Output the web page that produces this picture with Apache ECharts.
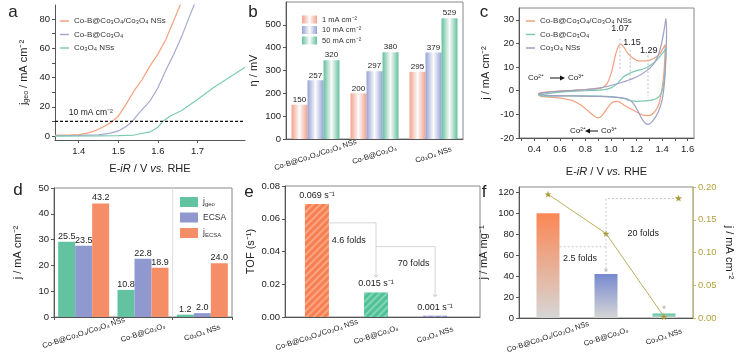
<!DOCTYPE html>
<html><head><meta charset="utf-8">
<script src="https://cdn.jsdelivr.net/npm/echarts@6/dist/echarts.min.js"></script>
<style>html,body{margin:0;padding:0;background:#fff}#c{width:746px;height:359px}</style>
</head><body><div id="c"></div>
<script>
// ---------------- DATA ----------------
const cats = ['Co-B@Co₃O₄/Co₃O₄ NSs', 'Co-B@Co₃O₄', 'Co₃O₄ NSs'];

// (a) LSV curves [E (V), j (mA cm-2)]
const lsvCoBCo3O4Co3O4 = [[1.34,0.6],[1.38,0.8],[1.40,1.0],[1.42,1.8],[1.44,3.5],[1.46,6],[1.48,9],[1.50,13.5],[1.52,22],[1.54,31],[1.56,38.5],[1.58,48],[1.60,56],[1.62,66],[1.64,79],[1.66,92]];
const lsvCoBCo3O4 = [[1.34,0.3],[1.40,0.4],[1.45,0.8],[1.48,2],[1.50,3.5],[1.52,6.5],[1.535,10],[1.55,15],[1.58,24],[1.60,33],[1.62,45],[1.64,56],[1.66,68],[1.68,82],[1.695,92]];
const lsvCo3O4 = [[1.34,0],[1.45,0.1],[1.50,0.3],[1.54,0.7],[1.58,2.8],[1.60,6],[1.612,10],[1.63,13.5],[1.66,17.5],[1.70,25],[1.74,33],[1.78,40],[1.82,47]];
const refCurrent = 10;
const aXTicks = [1.4, 1.5, 1.6, 1.7];
const aYTicks = [0, 20, 40, 60, 80];

// (b) overpotentials (mV)
const bLegend = ['1 mA cm⁻²', '10 mA cm⁻²', '50 mA cm⁻²'];
const eta1 = [150, 200, 295];
const eta10 = [257, 297, 379];
const eta50 = [345, 380, 529];
const eta1Labels = ['150', '200', '295'];
const eta10Labels = ['257', '297', '379'];
const eta50Labels = ['320', '380', '529'];
const bYTicks = [0, 100, 200, 300, 400, 500];

// (c) CV loops [E (V), j (mA cm-2)]
const cvCoBCo3O4Co3O4 = [[0.43,-1.5],[0.45,-0.9],[0.5,-0.5],[0.6,-0.1],[0.7,0.2],[0.8,0.5],[0.9,0.9],[0.94,1.5],[0.97,3],[1.0,7],[1.02,11.5],[1.04,16],[1.06,19],[1.08,19.6],[1.10,18.5],[1.13,16],[1.17,13.8],[1.22,12.6],[1.28,12.6],[1.33,13.5],[1.38,15.5],[1.41,18],[1.425,19.5],[1.42,12],[1.41,5],[1.39,-2],[1.37,-6.5],[1.34,-9],[1.30,-10.5],[1.25,-10.3],[1.20,-9],[1.15,-7.5],[1.10,-6],[1.05,-4.5],[1.01,-5],[0.97,-7.5],[0.93,-10.5],[0.90,-11.5],[0.87,-10.8],[0.82,-8.5],[0.77,-6.3],[0.70,-4.2],[0.62,-3.2],[0.52,-2.7],[0.45,-2.4],[0.43,-1.5]];
const cvCoBCo3O4 = [[0.43,-1.8],[0.5,-1.2],[0.6,-0.6],[0.8,0.0],[0.95,0.5],[1.0,1.2],[1.05,3],[1.10,6],[1.15,7.5],[1.20,8.5],[1.25,9.2],[1.30,10.5],[1.35,12.5],[1.39,15],[1.42,17],[1.43,18],[1.425,10],[1.41,2],[1.39,-1.5],[1.36,-3.2],[1.32,-4],[1.27,-4.3],[1.20,-4.5],[1.15,-4.2],[1.10,-3.3],[1.0,-2.5],[0.8,-2.2],[0.6,-2.2],[0.48,-2.3],[0.43,-1.8]];
const cvCo3O4 = [[0.43,-1.2],[0.5,-0.7],[0.6,-0.3],[0.7,0.1],[0.8,0.5],[0.9,1.1],[1.0,2.2],[1.1,3.8],[1.2,5.8],[1.28,8.5],[1.33,11],[1.37,15],[1.40,21],[1.42,27],[1.43,30.5],[1.435,24],[1.43,14],[1.42,4],[1.40,-4],[1.37,-9],[1.33,-12.5],[1.29,-14.2],[1.25,-12.5],[1.21,-8.5],[1.17,-5],[1.13,-3.5],[1.05,-2.8],[0.9,-2.4],[0.7,-2.2],[0.5,-2.0],[0.43,-1.2]];
const cvPeaks = [1.07, 1.15, 1.29];
const cvPeakTop = [22, 17.4, 15];
const cvPeakBottom = [8.75, 3.5, -2.4];
const cXLabels = [0.4, 0.6, 0.8, 1.0, 1.2, 1.4, 1.6];
const cXTicks = [0.3,0.4,0.5,0.6,0.7,0.8,0.9,1.0,1.1,1.2,1.3,1.4,1.5,1.6];
const cYTicks = [-20, -10, 0, 10, 20, 30];

// (d) current densities
const dLegend = ['jgeo', 'ECSA', 'jECSA'];
const jgeo = [29.2, 10.5, 0.9];
const ecsa = [27.6, 22.6, 1.5];
const jecsa = [44.0, 19.1, 20.8];
const jgeoLabels = ['25.5', '10.8', '1.2'];
const ecsaLabels = ['23.5', '22.8', '2.0'];
const jecsaLabels = ['43.2', '18.9', '24.0'];

// (e) TOF
const tof = [0.069, 0.015, 0.0008];
const tofLabels = ['0.069 s⁻¹', '0.015 s⁻¹', '0.001 s⁻¹'];
const eYTicks = [0, 0.02, 0.04, 0.06, 0.08];

// (f) mass activity & specific activity
const massAct = [100, 42, 4.3];
const massErrTop = [null, 46, 10.5];
const specAct = [0.189, 0.129, 0.002];
const fYTicks = [0, 20, 40, 60, 80, 100, 120];
const fY2Ticks = [0, 0.05, 0.10, 0.15, 0.20];

// ---------------- STYLE ----------------
const FONT = '"Liberation Sans", Arial, sans-serif';
const AX = '#555';
const TXT = '#222';
const nameRich = {
  n: {fontSize: 11, fontFamily: FONT, color: TXT, lineHeight: 13},
  i: {fontSize: 11, fontFamily: FONT, color: TXT, fontStyle: 'italic', lineHeight: 13},
  s: {fontSize: 7, fontFamily: FONT, color: TXT, verticalAlign: 'bottom', lineHeight: 7},
  p: {fontSize: 7, fontFamily: FONT, color: TXT, verticalAlign: 'top', lineHeight: 7}
};
function axisBase(extra) {
  return Object.assign({
    axisLine: {show: true, onZero: false, lineStyle: {color: AX, width: 1}},
    axisTick: {show: true, length: 3, inside: false, lineStyle: {color: AX}},
    axisLabel: {color: TXT, fontSize: 9.5, fontFamily: FONT, margin: 4},
    splitLine: {show: false},
    nameLocation: 'middle',
    nameTextStyle: {rich: nameRich, fontFamily: FONT, fontSize: 11, color: TXT}
  }, extra);
}
function catLabel(extra) {
  return Object.assign({color: TXT, fontSize: 7.5, fontFamily: FONT, rotate: 18, align: 'center', verticalAlign: 'middle', margin: 16}, extra);
}
function cyl(c) {
  return new echarts.graphic.LinearGradient(0, 0, 1, 0, [
    {offset: 0, color: c}, {offset: 0.5, color: '#fbfbfb'}, {offset: 1, color: c}]);
}
function vgrad(c) {
  return new echarts.graphic.LinearGradient(0, 0, 0, 1, [
    {offset: 0, color: c}, {offset: 1, color: '#d6d6d6'}]);
}
const frame = {show: true, borderColor: '#888', borderWidth: 1, backgroundColor: 'transparent'};
const starPath = 'path://M50,0 L61,35 L98,35 L68,57 L79,91 L50,70 L21,91 L32,57 L2,35 L39,35 Z';

const chart = echarts.init(document.getElementById('c'), null, {renderer: 'canvas'});

const option = {
  animation: false,
  backgroundColor: '#fff',
  textStyle: {fontFamily: FONT},
  grid: [
    {left: 55, top: 5, width: 190, height: 135},
    Object.assign({left: 286, top: 2, width: 177, height: 137}, frame),
    Object.assign({left: 519, top: 8, width: 175, height: 130}, frame),
    Object.assign({left: 54, top: 188, width: 178, height: 129}, frame),
    Object.assign({left: 285, top: 186, width: 195, height: 131}, frame),
    Object.assign({left: 519, top: 187, width: 174, height: 131}, frame)
  ],
  legend: [
    {data: ['Co-B@Co₃O₄/Co₃O₄ NSs', 'Co-B@Co₃O₄', 'Co₃O₄ NSs'], left: 55, top: 11, orient: 'vertical', icon: 'rect',
     itemWidth: 9, itemHeight: 1.5, itemGap: 3.5, selectedMode: false,
     textStyle: {fontSize: 8, fontFamily: FONT, color: '#333', lineHeight: 10}},
    {data: bLegend, left: 297, top: 10, orient: 'vertical', icon: 'rect', itemWidth: 15, itemHeight: 8, itemGap: 1.5,
     selectedMode: false, textStyle: {fontSize: 7.5, fontFamily: FONT, color: '#333', lineHeight: 9}},
    {data: ['Co-B@Co₃O₄/Co₃O₄ NSs ', 'Co-B@Co₃O₄ ', 'Co₃O₄ NSs '], left: 521, top: 11, orient: 'vertical', icon: 'rect',
     itemWidth: 9, itemHeight: 1.5, itemGap: 3.5, selectedMode: false,
     textStyle: {fontSize: 8, fontFamily: FONT, color: '#333', lineHeight: 10}},
    {data: dLegend, left: 175, top: 192, orient: 'vertical', icon: 'rect', itemWidth: 18, itemHeight: 10, itemGap: 5.5,
     selectedMode: false,
     formatter: n => n === 'jgeo' ? '{n|j}{s|geo}' : (n === 'jECSA' ? '{n|j}{s|ECSA}' : '{n|ECSA}'),
     textStyle: {fontSize: 8.5, fontFamily: FONT, color: '#333', rich: {
       n: {fontSize: 8.5, fontFamily: FONT, color: '#333', lineHeight: 10},
       s: {fontSize: 6, fontFamily: FONT, color: '#333', verticalAlign: 'bottom', lineHeight: 6}}}}
  ],
  xAxis: [
    axisBase({gridIndex: 0, type: 'value', min: 1.34, max: 1.82,
      axisLabel: {color: TXT, fontSize: 9.5, fontFamily: FONT, margin: 6, customValues: aXTicks},
      axisTick: {show: true, length: 3, lineStyle: {color: AX}, customValues: aXTicks},
      name: '{n|E-}{i|iR}{n| / V }{i|vs.}{n| RHE}', nameGap: 22}),
    axisBase({gridIndex: 1, type: 'category', data: cats, axisLabel: catLabel({}),
      axisTick: {show: false}}),
    axisBase({gridIndex: 2, type: 'value', min: 0.28, max: 1.65,
      axisLabel: {color: TXT, fontSize: 9.5, fontFamily: FONT, margin: 6, customValues: cXLabels, formatter: v => v.toFixed(1)},
      axisTick: {show: true, length: 3, lineStyle: {color: AX}, customValues: cXTicks},
      name: '{n|E-}{i|iR}{n| / V }{i|vs.}{n| RHE}', nameGap: 27}),
    axisBase({gridIndex: 3, type: 'category', data: cats, axisLabel: catLabel({}),
      axisTick: {show: true, length: 3, lineStyle: {color: AX}}}),
    axisBase({gridIndex: 4, type: 'value', min: -0.54, max: 2.76,
      axisLabel: catLabel({customValues: [0, 1, 2], formatter: v => cats[Math.round(v)], margin: 18}),
      axisTick: {show: false}}),
    axisBase({gridIndex: 5, type: 'value', min: -0.5, max: 2.5,
      axisLabel: catLabel({customValues: [0, 1, 2], formatter: v => cats[Math.round(v)], margin: 19}),
      axisTick: {show: false}})
  ],
  yAxis: [
    axisBase({gridIndex: 0, type: 'value', min: -2.7, max: 89.6,
      axisLabel: {color: TXT, fontSize: 9.5, fontFamily: FONT, margin: 5, customValues: aYTicks},
      axisTick: {show: true, length: 3, lineStyle: {color: AX}, customValues: [0,10,20,30,40,50,60,70,80]},
      name: '{n|j}{s|geo}{n| / mA cm⁻²}', nameGap: 25}),
    axisBase({gridIndex: 1, type: 'value', min: 0, max: 600,
      axisLabel: {color: TXT, fontSize: 9.5, fontFamily: FONT, margin: 5, customValues: bYTicks},
      axisTick: {show: true, length: 3, lineStyle: {color: AX}, customValues: bYTicks},
      name: '{n|η / mV}', nameGap: 26}),
    axisBase({gridIndex: 2, type: 'value', min: -20, max: 35,
      axisLabel: {color: TXT, fontSize: 9.5, fontFamily: FONT, margin: 5, customValues: cYTicks},
      axisTick: {show: true, length: 3, lineStyle: {color: AX}, customValues: cYTicks},
      name: '{n|j / mA cm⁻²}', nameGap: 27}),
    axisBase({gridIndex: 3, type: 'value', min: 0, max: 50, interval: 10,
      axisLabel: {color: TXT, fontSize: 9.5, fontFamily: FONT, margin: 5},
      name: '{n|j / mA cm⁻²}', nameGap: 30}),
    axisBase({gridIndex: 4, type: 'value', min: 0, max: 0.08,
      axisLabel: {color: TXT, fontSize: 9.5, fontFamily: FONT, margin: 5, customValues: eYTicks, formatter: v => v.toFixed(2)},
      axisTick: {show: true, length: 3, lineStyle: {color: AX}, customValues: eYTicks},
      name: '{n|TOF (s⁻¹)}', nameGap: 28}),
    axisBase({gridIndex: 5, type: 'value', min: 0, max: 125,
      axisLabel: {color: TXT, fontSize: 9.5, fontFamily: FONT, margin: 5, customValues: fYTicks},
      axisTick: {show: true, length: 3, lineStyle: {color: AX}, customValues: fYTicks},
      name: '{n|j / mA mg⁻¹}', nameGap: 29}),
    axisBase({gridIndex: 5, type: 'value', position: 'right', min: 0, max: 0.2,
      axisLine: {show: true, onZero: false, lineStyle: {color: '#c9b96a'}},
      axisLabel: {color: '#b3a23e', fontSize: 9.5, fontFamily: FONT, margin: 5, customValues: fY2Ticks, formatter: v => v.toFixed(2)},
      axisTick: {show: true, length: 3, lineStyle: {color: '#c9b96a'}, customValues: fY2Ticks},
      name: '{n|j / mA cm⁻²}', nameGap: 30, nameRotate: -90})
  ],
  series: [
    // (a)
    {type: 'line', name: 'Co-B@Co₃O₄/Co₃O₄ NSs', xAxisIndex: 0, yAxisIndex: 0, data: lsvCoBCo3O4Co3O4, showSymbol: false, color: '#f4a27e', lineStyle: {width: 1.2}},
    {type: 'line', name: 'Co-B@Co₃O₄', xAxisIndex: 0, yAxisIndex: 0, data: lsvCoBCo3O4, showSymbol: false, color: '#a5a9d0', lineStyle: {width: 1.2}},
    {type: 'line', name: 'Co₃O₄ NSs', xAxisIndex: 0, yAxisIndex: 0, data: lsvCo3O4, showSymbol: false, color: '#7fcbb2', lineStyle: {width: 1.2}},
    {type: 'line', name: 'ref', xAxisIndex: 0, yAxisIndex: 0, data: [[1.34, refCurrent], [1.82, refCurrent]], showSymbol: false, color: '#111', lineStyle: {width: 1.1, type: [3, 2]}},
    // (b)
    {type: 'bar', name: bLegend[0], xAxisIndex: 1, yAxisIndex: 1, data: eta1, barWidth: 16, barGap: '0%', itemStyle: {color: cyl('#f3a28d')},
      label: {show: true, position: 'top', distance: 1, formatter: p => eta1Labels[p.dataIndex], fontSize: 8, color: TXT, backgroundColor: '#fff', padding: [0, 1]}},
    {type: 'bar', name: bLegend[1], xAxisIndex: 1, yAxisIndex: 1, data: eta10, barWidth: 16, barGap: '0%', itemStyle: {color: cyl('#97a3d6')},
      label: {show: true, position: 'top', distance: 1, formatter: p => eta10Labels[p.dataIndex], fontSize: 8, color: TXT, backgroundColor: '#fff', padding: [0, 1]}},
    {type: 'bar', name: bLegend[2], xAxisIndex: 1, yAxisIndex: 1, data: eta50, barWidth: 16, barGap: '0%', itemStyle: {color: cyl('#63c19d')},
      label: {show: true, position: 'top', distance: 1, formatter: p => eta50Labels[p.dataIndex], fontSize: 8, color: TXT, backgroundColor: '#fff', padding: [0, 1]}},
    // (c)
    {type: 'line', name: 'Co-B@Co₃O₄/Co₃O₄ NSs ', xAxisIndex: 2, yAxisIndex: 2, data: cvCoBCo3O4Co3O4, showSymbol: false, smooth: 0.3, color: '#f2a07f', lineStyle: {width: 1.2}},
    {type: 'line', name: 'Co-B@Co₃O₄ ', xAxisIndex: 2, yAxisIndex: 2, data: cvCoBCo3O4, showSymbol: false, smooth: 0.3, color: '#7cc8b0', lineStyle: {width: 1.2}},
    {type: 'line', name: 'Co₃O₄ NSs ', xAxisIndex: 2, yAxisIndex: 2, data: cvCo3O4, showSymbol: false, smooth: 0.3, color: '#9d9fc3', lineStyle: {width: 1.2}},
    ...cvPeaks.map((v, i) => ({type: 'line', name: 'peak' + i, xAxisIndex: 2, yAxisIndex: 2, showSymbol: false, silent: true,
      data: [[v, cvPeakTop[i]], [v, cvPeakBottom[i]]], color: '#bbb', lineStyle: {width: 1, type: [2, 2]}})),
    // (d)
    {type: 'bar', name: 'jgeo', xAxisIndex: 3, yAxisIndex: 3, data: jgeo, barWidth: 17, barGap: '0%', color: '#63c29f',
      label: {show: true, position: 'top', distance: 1, formatter: p => jgeoLabels[p.dataIndex], fontSize: 9, color: TXT}},
    {type: 'bar', name: 'ECSA', xAxisIndex: 3, yAxisIndex: 3, data: ecsa, barWidth: 17, barGap: '0%', color: '#8f99cf',
      label: {show: true, position: 'top', distance: 1, formatter: p => ecsaLabels[p.dataIndex], fontSize: 9, color: TXT}},
    {type: 'bar', name: 'jECSA', xAxisIndex: 3, yAxisIndex: 3, data: jecsa, barWidth: 17, barGap: '0%', color: '#f58e66',
      label: {show: true, position: 'top', distance: 1, formatter: p => jecsaLabels[p.dataIndex], fontSize: 9, color: TXT}},
    // (e)
    {type: 'bar', name: 'tof', xAxisIndex: 4, yAxisIndex: 4, barWidth: 24,
      data: tof.map((v, i) => ({value: [i, v], itemStyle: {color: ['#f77f50', '#4fc297', '#8a90c8'][i]}})),
      itemStyle: {decal: {symbol: 'rect', symbolSize: 1, dashArrayX: [1, 0], dashArrayY: [1.5, 2.5], rotation: -Math.PI / 4, color: 'rgba(255,255,255,0.3)'}},
      label: {show: true, position: 'top', distance: 3, formatter: p => tofLabels[p.dataIndex], fontSize: 9, color: TXT, backgroundColor: '#fff', padding: [1, 2]}},
    // (f)
    {type: 'bar', name: 'mass', xAxisIndex: 5, yAxisIndex: 5, barWidth: 23, z: 2,
      data: massAct.map((v, i) => ({value: [i, v], itemStyle: {color: vgrad(['#fb8754', '#7689cf', '#55c69b'][i])}}))},
    {type: 'scatter', name: 'err', xAxisIndex: 5, yAxisIndex: 5, symbol: starPath, symbolSize: 5, color: '#b0b0b0',
      data: massErrTop.map((v, i) => v == null ? null : [i, v]).filter(d => d)},
    {type: 'line', name: 'spec', xAxisIndex: 5, yAxisIndex: 6, data: specAct.map((v, i) => [i, v]), z: 5,
      symbol: starPath, symbolSize: 7, showSymbol: true, color: '#a99a3a', lineStyle: {width: 1, color: '#bcae5c'}}
  ]
};
chart.setOption(option);

// ---------------- ANNOTATIONS ----------------
const P = (gi, x, y, yi) => chart.convertToPixel(yi != null ? {xAxisIndex: gi, yAxisIndex: yi} : {gridIndex: gi}, [x, y]);
const g = [];
function txt(x, y, text, o) {
  g.push({type: 'text', x: x, y: y, z: 100, style: Object.assign({text: text, fontSize: 8.5, fontFamily: FONT, fill: TXT, align: 'left', verticalAlign: 'middle'}, o || {})});
}
function poly(pts, o) {
  g.push({type: 'polyline', z: 50, shape: {points: pts}, style: Object.assign({stroke: '#bbb', lineWidth: 0.8, fill: null, lineDash: [2, 2]}, o || {})});
}
function arrow(x1, x2, y) {
  const d = x2 > x1 ? 1 : -1;
  g.push({type: 'line', z: 100, shape: {x1: x1, y1: y, x2: x2 - d * 3, y2: y}, style: {stroke: '#111', lineWidth: 1}});
  g.push({type: 'polygon', z: 100, shape: {points: [[x2, y], [x2 - d * 5, y - 2.5], [x2 - d * 5, y + 2.5]]}, style: {fill: '#111'}});
}
function star(cx, cy, r, fill) {
  const pts = [];
  for (let k = 0; k < 10; k++) {
    const a = -Math.PI / 2 + k * Math.PI / 5;
    const rr = k % 2 === 0 ? r : r * 0.42;
    pts.push([cx + rr * Math.cos(a), cy + rr * Math.sin(a)]);
  }
  g.push({type: 'polygon', z: 60, shape: {points: pts}, style: {fill: fill}});
}
// panel letters
[['a', 13, 12], ['b', 253, 12], ['c', 484, 12], ['d', 18, 190], ['e', 249, 192], ['f', 484, 192]].forEach(l =>
  txt(l[1], l[2], l[0], {fontSize: 17, align: 'center'}));
// (a) reference text
const ra = P(0, 1.375, refCurrent);
txt(ra[0], ra[1] - 9, '10 mA cm⁻²', {fontSize: 8.5});
// (c) peak labels and redox texts
const pk = [[1.07, 26.5], [1.165, 20.5], [1.295, 17]];
pk.forEach((p, i) => { const q = P(2, p[0], p[1]); txt(q[0], q[1], cvPeaks[i].toFixed(2), {fontSize: 9, align: 'center'}); });
txt(528, 78, 'Co²⁺', {fontSize: 8});
arrow(550, 565, 78);
txt(568, 78, 'Co³⁺', {fontSize: 8});
txt(570, 131, 'Co²⁺', {fontSize: 8});
arrow(598, 585, 131);
txt(601, 131, 'Co³⁺', {fontSize: 8});
// (d) separator
const ds = P(3, 1, 0);
const dband = 178 / 3;
g.push({type: 'line', z: 1, shape: {x1: ds[0] + dband / 2, y1: 188, x2: ds[0] + dband / 2, y2: 317}, style: {stroke: '#ddd', lineWidth: 1}});
// (e) fold annotations
const e1 = P(4, 0.19, 0.0575), e2 = P(4, 1, 0.0575), e3 = P(4, 1, 0.0245);
poly([e1, e2, e3], {lineDash: null, stroke: '#ccc'});
const e4 = P(4, 1, 0.043), e5 = P(4, 2, 0.043), e6 = P(4, 2, 0.0125);
poly([e4, e5, e6], {lineDash: null, stroke: '#ccc'});
[e3, e6].forEach(p => g.push({type: 'polyline', z: 50, shape: {points: [[p[0] - 2, p[1] - 2], [p[0], p[1]], [p[0] + 2, p[1] - 2]]}, style: {stroke: '#aaa', lineWidth: 0.8, fill: null}}));
const et1 = P(4, 0.25, 0.0470), et2 = P(4, 1.37, 0.0325);
txt(et1[0], et1[1], '4.6 folds', {fontSize: 9});
txt(et2[0], et2[1], '70 folds', {fontSize: 9});
// (f) fold annotations
const f1 = P(5, 0.2, 68, 5), f2 = P(5, 1, 68, 5);
poly([f1, f2]);
const f3 = P(5, 1, 47, 5), f4 = P(5, 1, 114, 5), f5 = P(5, 2.25, 114, 5);
poly([f3, f4, f5]);
star(f5[0], f5[1], 3.8, '#a99a3a');
const ft1 = P(5, 0.26, 57, 5), ft2 = P(5, 1.37, 81, 5);
txt(ft1[0], ft1[1], '2.5 folds', {fontSize: 9});
txt(ft2[0], ft2[1], '20 folds', {fontSize: 9});

chart.setOption({graphic: g});
</script>
</body></html>
